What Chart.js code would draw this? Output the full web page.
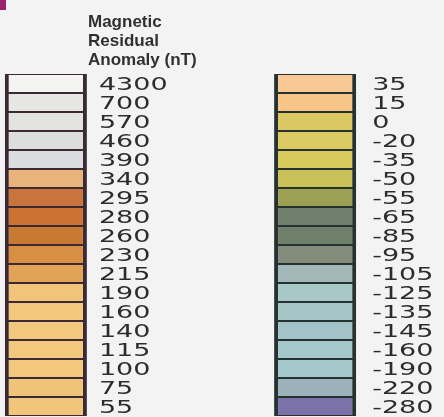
<!DOCTYPE html>
<html>
<head>
<meta charset="utf-8">
<script src="https://cdn.jsdelivr.net/npm/chart.js@4"></script>
<style>
  body { margin: 0; background: #f3f3f3; }
  #wrap { position: relative; width: 444px; height: 417px; }
  #corner { position: absolute; left: 0; top: 0; width: 6px; height: 10px; background: #9b2470; }
</style>
</head>
<body>
<div id="wrap">
  <div id="corner"></div>
  <canvas id="legendChart" width="444" height="417"></canvas>
</div>
<script>
// class breaks shown on the legend (nT), top to bottom
const leftBreaks = [4300, 700, 570, 460, 390, 340, 295, 280, 260, 230, 215, 190, 160, 140, 115, 100, 75, 55]
const rightBreaks = [35, 15, 0, -20, -35, -50, -55, -65, -85, -95, -105, -125, -135, -145, -160, -190, -220, -280]

const leftColors = [
  '#f4f4f2', '#e6e6e3', '#e3e3df', '#dcdddd', '#dadddf', '#e9b47c',
  '#c9743c', '#cd7232', '#c97a32', '#d88f44', '#e2a356', '#f1c47a',
  '#f1c87c', '#f1c87c', '#f1c87c', '#f1c87c', '#f0c478', '#f1c67a'
]
const rightColors = [
  '#f8c994', '#f7c587', '#dcc862', '#dccb62', '#d9ca5e', '#c9c05a',
  '#9ba052', '#71806c', '#6f806a', '#838c7a', '#a2b8b8', '#a8c8c8',
  '#a5c5c6', '#a2c4c8', '#a5c8cc', '#a5c8cc', '#9cb2ba', '#7a72a8'
]

const titleLines = ['Magnetic', 'Residual', 'Anomaly (nT)']

// one stacked dataset per legend row: left column and right column
const datasets = leftBreaks.map((v, i) => ({
  label: v + ' / ' + rightBreaks[i],
  data: [1, null, null, 1],
  backgroundColor: [leftColors[i], null, null, rightColors[i]],
  borderColor: ['#3b2a34', null, null, '#263230'],
  borderWidth: { top: 1, bottom: 1, left: 4, right: 4 },
  borderSkipped: false,
  barPercentage: 0.9145,
  categoryPercentage: 1
}))

const legendLabels = {
  id: 'legendLabels',
  afterDatasetsDraw(chart) {
    const ctx = chart.ctx
    ctx.save()
    ctx.fillStyle = '#2c2c2c'
    ctx.textBaseline = 'middle'
    ctx.textAlign = 'left'
    ctx.font = '18px "DejaVu Sans"'
    datasets.forEach((ds, i) => {
      const meta = chart.getDatasetMeta(i)
      const cols = [
        { el: meta.data[0], text: String(leftBreaks[i]), gap: 12 },
        { el: meta.data[3], text: String(rightBreaks[i]), gap: 16 }
      ]
      cols.forEach((c) => {
        const x = c.el.x + c.el.width / 2 + c.gap
        const y = (c.el.y + c.el.base) / 2 + 1.5
        ctx.save()
        ctx.translate(x, y)
        ctx.scale(1.5, 1)
        ctx.fillText(c.text, 0, 0)
        ctx.restore()
      })
    })

    // heading
    ctx.fillStyle = '#303030'
    ctx.textBaseline = 'alphabetic'
    ctx.font = 'bold 17px "Liberation Sans"'
    titleLines.forEach((t, k) => {
      ctx.fillText(t, 88, 27 + k * 19)
    })
    ctx.restore()
  }
}

new Chart(document.getElementById('legendChart').getContext('2d'), {
  type: 'bar',
  data: {
    labels: ['left', '', '', 'right'],
    datasets: datasets
  },
  options: {
    responsive: false,
    animation: false,
    layout: { padding: { left: 1, right: 84, top: 74, bottom: 1 } },
    plugins: {
      legend: { display: false },
      tooltip: { enabled: false },
      title: { display: false }
    },
    scales: {
      x: { display: false, stacked: true },
      y: { display: false, stacked: true, min: 0, max: 18, reverse: true }
    }
  },
  plugins: [legendLabels]
})
</script>
</body>
</html>
